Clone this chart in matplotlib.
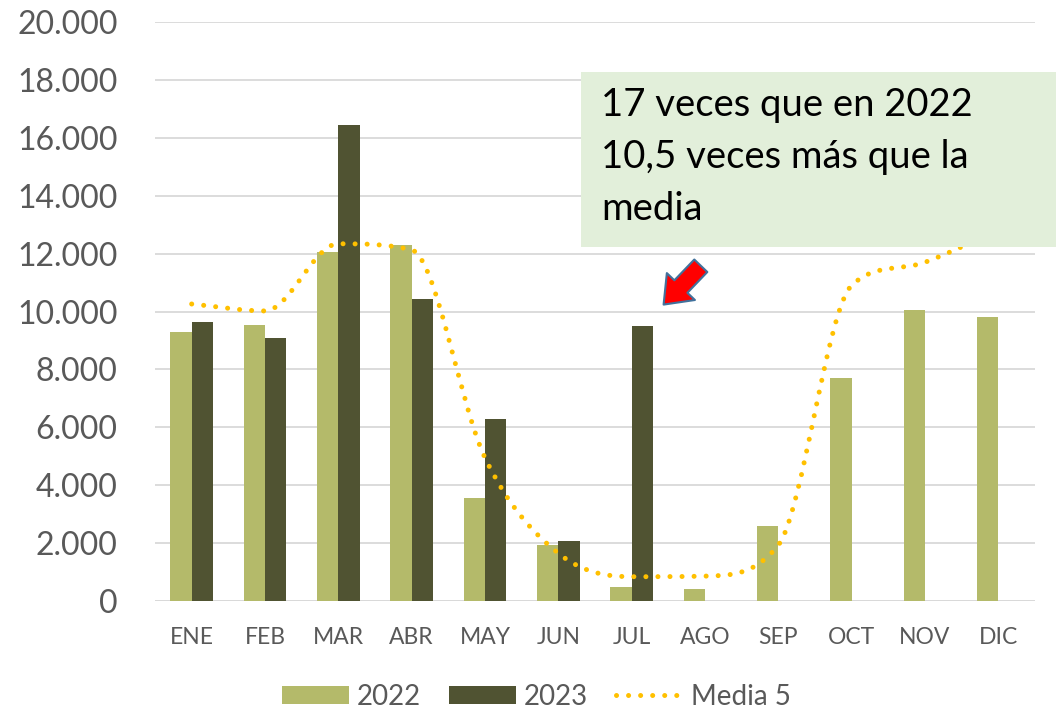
import matplotlib.pyplot as plt
import numpy as np
from matplotlib.path import Path
from matplotlib.patches import PathPatch, Rectangle, Patch, FancyArrowPatch
from matplotlib.lines import Line2D
from matplotlib.ticker import FuncFormatter

plt.rcParams['font.family'] = ['Lato', 'DejaVu Sans']

# data
meses = ["ENE", "FEB", "MAR", "ABR", "MAY", "JUN", "JUL", "AGO", "SEP", "OCT", "NOV", "DIC"]
v2022 = [9300, 9550, 12040, 12290, 3560, 1950, 500, 410, 2600, 7700, 10050, 9810]
v2023 = [9630, 9070, 16440, 10420, 6300, 2060, 9500, np.nan, np.nan, np.nan, np.nan, np.nan]
media5 = [10260, 10020, 12340, 12130, 4950, 1650, 840, 860, 1930, 10900, 11700, 12800]

c2022 = "#B4BA6A"
c2023 = "#505332"
cmedia = "#FFC000"
gris = "#595959"

fig = plt.figure(figsize=(10.56, 7.11), dpi=100)
ax = fig.add_axes([0.1468, 0.1547, 0.8332, 0.8143])

x = np.arange(len(meses))
w = 0.29
ax.bar(x - w / 2, v2022, w, color=c2022, zorder=2)
ax.bar(x + w / 2, v2023, w, color=c2023, zorder=2)

# smoothed line (monotone cubic so it does not overshoot), drawn as bezier path
y = np.array(media5, dtype=float)
sec = np.diff(y)
m = np.zeros_like(y)
m[0], m[-1] = sec[0], sec[-1]
for i in range(1, len(y) - 1):
    if sec[i - 1] * sec[i] <= 0:
        m[i] = 0
    else:
        m[i] = np.sign(sec[i]) * min((abs(sec[i - 1]) + abs(sec[i])) / 2,
                                     3 * min(abs(sec[i - 1]), abs(sec[i])))
verts = [(x[0], y[0])]
codes = [Path.MOVETO]
for i in range(len(y) - 1):
    verts += [(x[i] + 1 / 3, y[i] + m[i] / 3), (x[i + 1] - 1 / 3, y[i + 1] - m[i + 1] / 3),
              (x[i + 1], y[i + 1])]
    codes += [Path.CURVE4] * 3
ax.add_patch(PathPatch(Path(verts, codes), fill=False, edgecolor=cmedia, lw=3.6,
                       linestyle=(0, (0.01, 2.4)), capstyle='round', zorder=3))

ax.set_xlim(-0.5, 11.5)
ax.set_ylim(0, 20000)
ax.set_yticks(np.arange(0, 20001, 2000))
ax.yaxis.set_major_formatter(FuncFormatter(lambda v, p: f"{int(v):,}".replace(",", ".")))
ax.set_xticks(x)
ax.set_xticklabels(meses)
ax.tick_params(axis='y', labelsize=23, colors=gris, length=0, pad=27)
ax.tick_params(axis='x', labelsize=16.5, colors=gris, length=0, pad=19)
ax.grid(axis='y', color="#D9D9D9", lw=1.3, zorder=0)
for s in ax.spines.values():
    s.set_visible(False)
ax.axhline(0, color="#D9D9D9", lw=1.3, zorder=1)

# annotation box
ax.add_patch(Rectangle((0.5502, 0.6526), 0.4498, 0.2461, transform=fig.transFigure,
                       facecolor="#E2EFDA", edgecolor="none", clip_on=False, zorder=10))
fig.text(0.569, 0.878, "17 veces que en 2022\n10,5 veces más que la\nmedia",
         fontsize=27.5, color="black", va='top', ha='left', linespacing=1.55, zorder=11)

arrow = FancyArrowPatch((6.97, 11650), (6.41, 10170),
                        arrowstyle="simple,head_length=18,head_width=28,tail_width=13",
                        mutation_scale=1, facecolor="#FF0000", edgecolor="#41719C",
                        lw=1.5, zorder=12, clip_on=False)
ax.add_patch(arrow)

handles = [Patch(facecolor=c2022), Patch(facecolor=c2023),
           Line2D([], [], color=cmedia, lw=3.6, linestyle=(0, (0.01, 2.4)),
                  dash_capstyle='round')]
fig.legend(handles, ["2022", "2023", "Media 5"], loc='center',
           bbox_to_anchor=(0.508, 0.02), ncol=3, frameon=False, fontsize=20,
           labelcolor=gris, handlelength=2.4, handleheight=0.65, columnspacing=1.0,
           handletextpad=0.3, borderpad=0.1)

fig.savefig("out.png", dpi=100)
